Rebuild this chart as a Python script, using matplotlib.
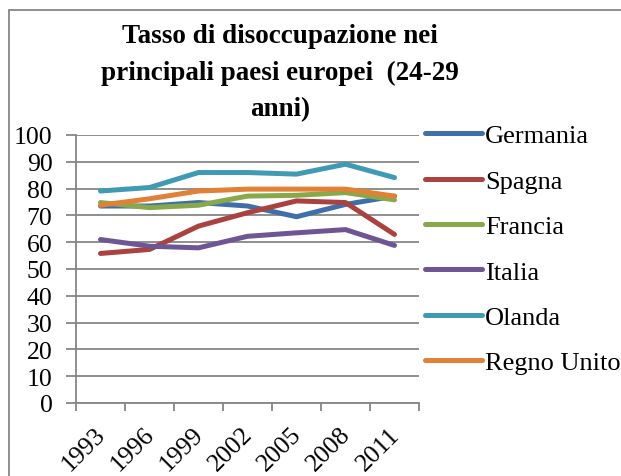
import matplotlib
matplotlib.use('Agg')
import matplotlib.pyplot as plt
import matplotlib.transforms as mtransforms
import numpy as np
from matplotlib.patches import Rectangle

plt.rcParams['font.family'] = ['Liberation Serif', 'DejaVu Serif']

years = ['1993', '1996', '1999', '2002', '2005', '2008', '2011']
paesi = ['Germania', 'Spagna', 'Francia', 'Italia', 'Olanda', 'Regno Unito']
germania = [73.5, 73.5, 74.8, 73.5, 69.5, 74.1, 77.2]
spagna = [55.8, 57.3, 66.0, 71.0, 75.4, 74.8, 62.9]
francia = [74.8, 72.9, 73.8, 77.2, 77.5, 78.5, 75.8]
italia = [61.0, 58.5, 57.9, 62.2, 63.5, 64.7, 58.8]
olanda = [79.1, 80.4, 86.0, 86.0, 85.4, 89.1, 84.1]
regno_unito = [73.8, 76.2, 79.1, 79.8, 79.8, 79.8, 77.2]
colori = ['#3F6FAA', '#AA4240', '#88A94B', '#6E5594', '#3F9BB3', '#E08136']

serie = [germania, spagna, francia, italia, olanda, regno_unito]

fig = plt.figure(figsize=(6.21, 4.77), dpi=100)
ax = fig.add_axes([76/621, 1 - 404/477, (419 - 76)/621, (404 - 136)/477])

x = np.arange(len(years))
for nome, valori, col in zip(paesi, serie, colori):
    ax.plot(x, valori, color=col, linewidth=3.6, label=nome, solid_capstyle='round')

grigio = '#868686'
ax.set_xlim(-0.5, len(years) - 0.5)
ax.set_ylim(0, 100)
ax.set_yticks(np.arange(0, 101, 10))
ax.grid(axis='y', color=grigio, linewidth=1.3)
ax.set_axisbelow(True)
ax.tick_params(axis='y', labelsize=18.5, length=7, width=1.3, color=grigio, pad=10)

ax.set_xticks(x)
ax.set_xticklabels(years, rotation=45, ha='right', rotation_mode='anchor', fontsize=18.5)
ax.tick_params(axis='x', length=0, pad=13)
ax.set_xticks(np.arange(-0.5, len(years)), minor=True)
ax.tick_params(axis='x', which='minor', length=6, width=1.3, color=grigio)
# sposta le etichette un po' a sinistra
offset = mtransforms.ScaledTranslation(-6/100, -2/100, fig.dpi_scale_trans)
for lbl in ax.get_xticklabels():
    lbl.set_transform(lbl.get_transform() + offset)

for s in ['top', 'right']:
    ax.spines[s].set_visible(False)
for s in ['left', 'bottom']:
    ax.spines[s].set_color(grigio)
    ax.spines[s].set_linewidth(1.3)

fig.text(280/621, 1 - 73/477, 'Tasso di disoccupazione nei\nprincipali paesi europei  (24-29\nanni)',
         ha='center', va='center', fontsize=19.5, fontweight='bold', linespacing=1.6)

ax.legend(loc='upper left', bbox_to_anchor=((425 - 76)/343, 1.041), frameon=False, fontsize=19,
          handlelength=2.15, handletextpad=0.12, labelspacing=0.83, borderaxespad=0, borderpad=0)

fig.patches.append(Rectangle((9/621, -0.1), 1.2, 1.1 - 11/477, transform=fig.transFigure,
                             fill=False, edgecolor=grigio, linewidth=1.3))

fig.savefig('out.png', dpi=100)
